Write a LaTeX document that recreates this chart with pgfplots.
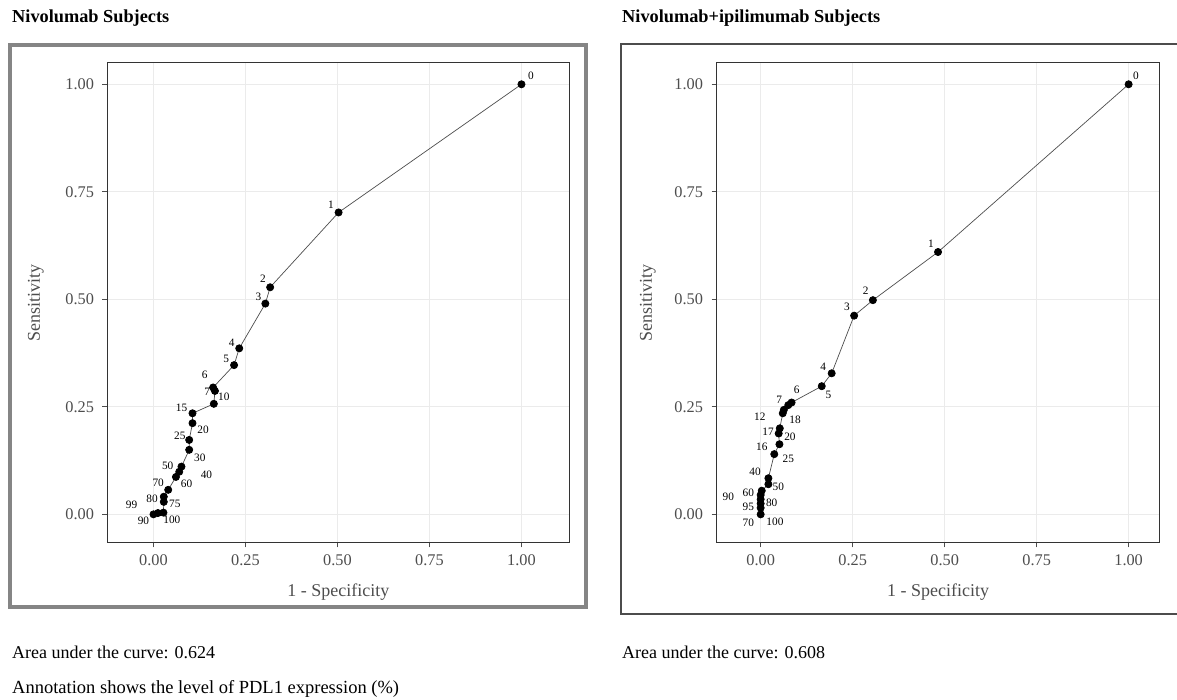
\documentclass[border=0pt]{standalone}
\usepackage{pgfplots}
\pgfplotsset{compat=1.18}
\usepackage{pgfplotstable}
\usepackage{fontspec}
\setmainfont{Liberation Serif}

\definecolor{gridgray}{HTML}{EBEBEB}
\definecolor{axisgray}{HTML}{333333}
\definecolor{labgray}{HTML}{4D4D4D}
\definecolor{framegray}{HTML}{858585}

% ROC points: PD-L1 cut-off (%), 1 - specificity, sensitivity, label offset (pt)
\pgfplotstableread{
lab x y dx dy
0 1.000 1.000 9.5 8.3
1 0.503 0.702 -7.7 7.3
2 0.317 0.528 -7.3 9
3 0.304 0.490 -7 7
4 0.233 0.386 -7.6 5.6
5 0.219 0.347 -8 6.7
6 0.162 0.295 -8.3 12.3
7 0.167 0.287 -7.7 -0.7
10 0.164 0.257 10 7.3
15 0.106 0.235 -11 5
20 0.106 0.212 10.6 -6.3
25 0.097 0.173 -9.3 4
30 0.097 0.150 10.7 -8.3
40 0.076 0.111 25 -8.3
50 0.070 0.099 -11.6 6
60 0.061 0.087 10.7 -7.3
70 0.040 0.057 -10 7.3
75 0.028 0.041 11 -7.3
80 0.028 0.029 -11.7 2.7
90 0.027 0.004 -20 -8
99 0.012 0.003 -26.3 8
100 0.000 0.000 18.4 -5.7
}\nivodata

\pgfplotstableread{
lab x y dx dy
0 1.000 1.000 7.3 8.3
1 0.482 0.610 -7 8
2 0.305 0.498 -7.3 9.3
3 0.254 0.462 -7.3 8.4
4 0.193 0.328 -8.4 6.6
5 0.166 0.298 6.6 -9
6 0.084 0.260 5 12.7
7 0.075 0.254 -9 5
12 0.063 0.243 -24 -7.3
18 0.060 0.235 12.3 -6.7
17 0.052 0.200 -11.7 -3.4
20 0.049 0.188 11.3 -3.4
16 0.051 0.163 -17.6 -2.7
25 0.037 0.140 14 -4.3
40 0.021 0.084 -13.3 6.6
50 0.021 0.070 10 -2.7
60 0.003 0.055 -13.5 -2.6
70 0.000 0.045 -12.4 -27.7
80 0.000 0.035 11 -3.4
90 0.000 0.025 -32.4 6.9
95 0.000 0.015 -12.4 1.2
100 0.000 0.000 14.3 -7.4
}\nivoipidata

% both panels use 368 pt per unit on x and 430 pt per unit on y
\newcommand{\xunit}{368}
\newcommand{\yunit}{430}

\pgfplotsset{
  rocaxis/.style={
    scale only axis,
    height=479.5pt,
    ymin=-0.065, ymax=1.05,
    xtick={0,0.25,0.5,0.75,1},
    ytick={0,0.25,0.5,0.75,1},
    xticklabels={0.00,0.25,0.50,0.75,1.00},
    yticklabels={0.00,0.25,0.50,0.75,1.00},
    tick align=outside,
    xtick pos=bottom, ytick pos=left,
    major tick length=5pt,
    tick style={labgray, line width=0.8pt},
    axis line style={axisgray, line width=1pt},
    grid=major,
    major grid style={gridgray, line width=0.9pt},
    ticklabel style={font=\fontsize{16.3}{17}\selectfont, text=labgray},
    xticklabel style={yshift=-4pt},
    yticklabel style={xshift=-5pt},
    xlabel={1 - Specificity},
    ylabel={Sensitivity},
    label style={font=\fontsize{18}{19}\selectfont, text=labgray},
    x label style={at={(axis description cs:0.5,-0.104)}, anchor=center},
    y label style={at={(axis description cs:-0.155,0.5)}, anchor=center},
    clip=false,
  },
  rocline/.style={
    black!70, line width=0.7pt,
    mark=*, mark size=3.6pt,
    mark options={solid, draw=black, fill=black},
  },
  roclabels/.style={
    draw=none, mark=none,
    point meta=explicit symbolic,
    nodes near coords,
    nodes near coords style={
      font=\fontsize{11.3}{12}\selectfont, text=black, anchor=center,
      inner sep=0pt},
  },
}

\begin{document}
\begin{tikzpicture}
\useasboundingbox (0,0) rectangle (1177pt,700pt);

% panel frames
\draw[framegray, line width=4pt] (10pt,655pt) rectangle (586pt,93pt);
\draw[black!70, line width=1.4pt] (1185pt,656pt) -- (621pt,656pt) -- (621pt,86pt) -- (1185pt,86pt);

% panel titles and notes
\node[anchor=base west, font=\fontsize{18.3}{19}\selectfont\bfseries, inner sep=0pt] at (12pt,677pt) {Nivolumab Subjects};
\node[anchor=base west, font=\fontsize{18.3}{19}\selectfont\bfseries, inner sep=0pt] at (622pt,677pt) {Nivolumab+ipilimumab Subjects};
\node[anchor=base west, font=\fontsize{18}{19}\selectfont, inner sep=0pt] at (12pt,41pt) {Area under the curve: 0.624};
\node[anchor=base west, font=\fontsize{18}{19}\selectfont, inner sep=0pt] at (622pt,41pt) {Area under the curve: 0.608};
\node[anchor=base west, font=\fontsize{18.5}{19}\selectfont, inner sep=0pt] at (12pt,6pt) {Annotation shows the level of PDL1 expression (\%)};

\begin{axis}[rocaxis, at={(107.5pt,157.7pt)}, anchor=south west,
  width=461.8pt, xmin=-0.125, xmax=1.13]
  \addplot[rocline] table[x=x, y=y] {\nivodata};
  \addplot[roclabels] table[x expr=\thisrow{x}+\thisrow{dx}/\xunit,
    y expr=\thisrow{y}+\thisrow{dy}/\yunit, meta=lab] {\nivodata};
\end{axis}

\begin{axis}[rocaxis, at={(716.5pt,157.7pt)}, anchor=south west,
  width=443.4pt, xmin=-0.12, xmax=1.085]
  \addplot[rocline] table[x=x, y=y] {\nivoipidata};
  \addplot[roclabels] table[x expr=\thisrow{x}+\thisrow{dx}/\xunit,
    y expr=\thisrow{y}+\thisrow{dy}/\yunit, meta=lab] {\nivoipidata};
\end{axis}
\end{tikzpicture}
\end{document}
